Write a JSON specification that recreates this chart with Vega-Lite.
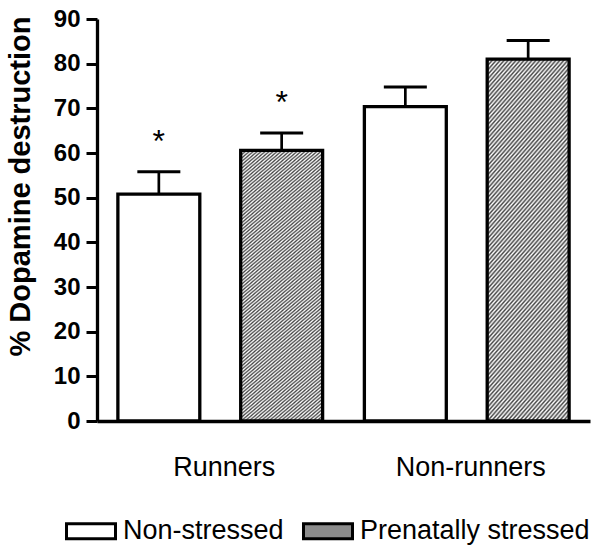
{
  "$schema": "https://vega.github.io/schema/vega-lite/v6.json",
  "width": 493,
  "height": 402,
  "autosize": {"type": "none"},
  "padding": {"left": 97, "top": 19, "right": 12, "bottom": 132},
  "background": "white",
  "config": {"font": "Liberation Sans", "view": {"stroke": null}},
  "data": {
    "values": [
      {"group": "Runners", "cond": "Non-stressed", "mean": 50.8, "upper": 55.8, "sig": "*"},
      {"group": "Runners", "cond": "Prenatally stressed", "mean": 60.6, "upper": 64.5, "sig": "*"},
      {"group": "Non-runners", "cond": "Non-stressed", "mean": 70.4, "upper": 74.8, "sig": ""},
      {"group": "Non-runners", "cond": "Prenatally stressed", "mean": 81.0, "upper": 85.2, "sig": ""}
    ]
  },
  "encoding": {
    "x": {
      "field": "group", "type": "nominal", "sort": ["Runners", "Non-runners"],
      "scale": {"paddingInner": 0, "paddingOuter": 0},
      "axis": {"title": null, "ticks": false, "tickSize": 0, "domainColor": "black", "domainWidth": 3.3,
               "labelFont": "Liberation Sans", "labelFontSize": 27, "labelColor": "black", "labelAngle": 0,
               "labelBaseline": "alphabetic", "labelPadding": 54, "labelOffset": 4}
    },
    "xOffset": {
      "field": "cond", "type": "nominal", "sort": ["Non-stressed", "Prenatally stressed"],
      "scale": {"paddingInner": 0.333, "paddingOuter": 0.17}
    }
  },
  "layer": [
    {
      "mark": {"type": "bar", "stroke": "black", "strokeWidth": 3.3},
      "encoding": {
        "y": {
          "field": "mean", "type": "quantitative", "title": "% Dopamine destruction",
          "scale": {"domain": [0, 90], "nice": false, "zero": true},
          "axis": {"values": [0, 10, 20, 30, 40, 50, 60, 70, 80, 90], "grid": false,
                   "domainColor": "black", "domainWidth": 3.3, "tickColor": "black", "tickWidth": 3, "tickSize": 11,
                   "labelFont": "Liberation Sans", "labelFontWeight": "bold", "labelFontSize": 24, "labelColor": "black", "labelPadding": 6,
                   "titleFont": "Liberation Sans", "titleFontWeight": "bold", "titleFontSize": 29, "titleColor": "black",
                   "titleX": -68, "titleY": 167, "titleAngle": 270, "titleAlign": "center", "titleBaseline": "alphabetic"}
        },
        "fill": {
          "field": "cond", "type": "nominal",
          "scale": {"domain": ["Non-stressed", "Prenatally stressed"], "range": ["white", "#8c8c8c"]},
          "condition": {
            "test": "datum.cond === 'Prenatally stressed'",
            "value": {"gradient": "linear", "x1": 0, "y1": 0, "x2": 0.3058, "y2": 1.18, "stops": [
              {"offset":0,"color":"#fff"},{"offset":0.005,"color":"#444"},{"offset":0.01,"color":"#fff"},{"offset":0.015,"color":"#444"},
              {"offset":0.02,"color":"#fff"},{"offset":0.025,"color":"#444"},{"offset":0.03,"color":"#fff"},{"offset":0.035,"color":"#444"},
              {"offset":0.04,"color":"#fff"},{"offset":0.045,"color":"#444"},{"offset":0.05,"color":"#fff"},{"offset":0.055,"color":"#444"},
              {"offset":0.06,"color":"#fff"},{"offset":0.065,"color":"#444"},{"offset":0.07,"color":"#fff"},{"offset":0.075,"color":"#444"},
              {"offset":0.08,"color":"#fff"},{"offset":0.085,"color":"#444"},{"offset":0.09,"color":"#fff"},{"offset":0.095,"color":"#444"},
              {"offset":0.1,"color":"#fff"},{"offset":0.105,"color":"#444"},{"offset":0.11,"color":"#fff"},{"offset":0.115,"color":"#444"},
              {"offset":0.12,"color":"#fff"},{"offset":0.125,"color":"#444"},{"offset":0.13,"color":"#fff"},{"offset":0.135,"color":"#444"},
              {"offset":0.14,"color":"#fff"},{"offset":0.145,"color":"#444"},{"offset":0.15,"color":"#fff"},{"offset":0.155,"color":"#444"},
              {"offset":0.16,"color":"#fff"},{"offset":0.165,"color":"#444"},{"offset":0.17,"color":"#fff"},{"offset":0.175,"color":"#444"},
              {"offset":0.18,"color":"#fff"},{"offset":0.185,"color":"#444"},{"offset":0.19,"color":"#fff"},{"offset":0.195,"color":"#444"},
              {"offset":0.2,"color":"#fff"},{"offset":0.205,"color":"#444"},{"offset":0.21,"color":"#fff"},{"offset":0.215,"color":"#444"},
              {"offset":0.22,"color":"#fff"},{"offset":0.225,"color":"#444"},{"offset":0.23,"color":"#fff"},{"offset":0.235,"color":"#444"},
              {"offset":0.24,"color":"#fff"},{"offset":0.245,"color":"#444"},{"offset":0.25,"color":"#fff"},{"offset":0.255,"color":"#444"},
              {"offset":0.26,"color":"#fff"},{"offset":0.265,"color":"#444"},{"offset":0.27,"color":"#fff"},{"offset":0.275,"color":"#444"},
              {"offset":0.28,"color":"#fff"},{"offset":0.285,"color":"#444"},{"offset":0.29,"color":"#fff"},{"offset":0.295,"color":"#444"},
              {"offset":0.3,"color":"#fff"},{"offset":0.305,"color":"#444"},{"offset":0.31,"color":"#fff"},{"offset":0.315,"color":"#444"},
              {"offset":0.32,"color":"#fff"},{"offset":0.325,"color":"#444"},{"offset":0.33,"color":"#fff"},{"offset":0.335,"color":"#444"},
              {"offset":0.34,"color":"#fff"},{"offset":0.345,"color":"#444"},{"offset":0.35,"color":"#fff"},{"offset":0.355,"color":"#444"},
              {"offset":0.36,"color":"#fff"},{"offset":0.365,"color":"#444"},{"offset":0.37,"color":"#fff"},{"offset":0.375,"color":"#444"},
              {"offset":0.38,"color":"#fff"},{"offset":0.385,"color":"#444"},{"offset":0.39,"color":"#fff"},{"offset":0.395,"color":"#444"},
              {"offset":0.4,"color":"#fff"},{"offset":0.405,"color":"#444"},{"offset":0.41,"color":"#fff"},{"offset":0.415,"color":"#444"},
              {"offset":0.42,"color":"#fff"},{"offset":0.425,"color":"#444"},{"offset":0.43,"color":"#fff"},{"offset":0.435,"color":"#444"},
              {"offset":0.44,"color":"#fff"},{"offset":0.445,"color":"#444"},{"offset":0.45,"color":"#fff"},{"offset":0.455,"color":"#444"},
              {"offset":0.46,"color":"#fff"},{"offset":0.465,"color":"#444"},{"offset":0.47,"color":"#fff"},{"offset":0.475,"color":"#444"},
              {"offset":0.48,"color":"#fff"},{"offset":0.485,"color":"#444"},{"offset":0.49,"color":"#fff"},{"offset":0.495,"color":"#444"},
              {"offset":0.5,"color":"#fff"},{"offset":0.505,"color":"#444"},{"offset":0.51,"color":"#fff"},{"offset":0.515,"color":"#444"},
              {"offset":0.52,"color":"#fff"},{"offset":0.525,"color":"#444"},{"offset":0.53,"color":"#fff"},{"offset":0.535,"color":"#444"},
              {"offset":0.54,"color":"#fff"},{"offset":0.545,"color":"#444"},{"offset":0.55,"color":"#fff"},{"offset":0.555,"color":"#444"},
              {"offset":0.56,"color":"#fff"},{"offset":0.565,"color":"#444"},{"offset":0.57,"color":"#fff"},{"offset":0.575,"color":"#444"},
              {"offset":0.58,"color":"#fff"},{"offset":0.585,"color":"#444"},{"offset":0.59,"color":"#fff"},{"offset":0.595,"color":"#444"},
              {"offset":0.6,"color":"#fff"},{"offset":0.605,"color":"#444"},{"offset":0.61,"color":"#fff"},{"offset":0.615,"color":"#444"},
              {"offset":0.62,"color":"#fff"},{"offset":0.625,"color":"#444"},{"offset":0.63,"color":"#fff"},{"offset":0.635,"color":"#444"},
              {"offset":0.64,"color":"#fff"},{"offset":0.645,"color":"#444"},{"offset":0.65,"color":"#fff"},{"offset":0.655,"color":"#444"},
              {"offset":0.66,"color":"#fff"},{"offset":0.665,"color":"#444"},{"offset":0.67,"color":"#fff"},{"offset":0.675,"color":"#444"},
              {"offset":0.68,"color":"#fff"},{"offset":0.685,"color":"#444"},{"offset":0.69,"color":"#fff"},{"offset":0.695,"color":"#444"},
              {"offset":0.7,"color":"#fff"},{"offset":0.705,"color":"#444"},{"offset":0.71,"color":"#fff"},{"offset":0.715,"color":"#444"},
              {"offset":0.72,"color":"#fff"},{"offset":0.725,"color":"#444"},{"offset":0.73,"color":"#fff"},{"offset":0.735,"color":"#444"},
              {"offset":0.74,"color":"#fff"},{"offset":0.745,"color":"#444"},{"offset":0.75,"color":"#fff"},{"offset":0.755,"color":"#444"},
              {"offset":0.76,"color":"#fff"},{"offset":0.765,"color":"#444"},{"offset":0.77,"color":"#fff"},{"offset":0.775,"color":"#444"},
              {"offset":0.78,"color":"#fff"},{"offset":0.785,"color":"#444"},{"offset":0.79,"color":"#fff"},{"offset":0.795,"color":"#444"},
              {"offset":0.8,"color":"#fff"},{"offset":0.805,"color":"#444"},{"offset":0.81,"color":"#fff"},{"offset":0.815,"color":"#444"},
              {"offset":0.82,"color":"#fff"},{"offset":0.825,"color":"#444"},{"offset":0.83,"color":"#fff"},{"offset":0.835,"color":"#444"},
              {"offset":0.84,"color":"#fff"},{"offset":0.845,"color":"#444"},{"offset":0.85,"color":"#fff"},{"offset":0.855,"color":"#444"},
              {"offset":0.86,"color":"#fff"},{"offset":0.865,"color":"#444"},{"offset":0.87,"color":"#fff"},{"offset":0.875,"color":"#444"},
              {"offset":0.88,"color":"#fff"},{"offset":0.885,"color":"#444"},{"offset":0.89,"color":"#fff"},{"offset":0.895,"color":"#444"},
              {"offset":0.9,"color":"#fff"},{"offset":0.905,"color":"#444"},{"offset":0.91,"color":"#fff"},{"offset":0.915,"color":"#444"},
              {"offset":0.92,"color":"#fff"},{"offset":0.925,"color":"#444"},{"offset":0.93,"color":"#fff"},{"offset":0.935,"color":"#444"},
              {"offset":0.94,"color":"#fff"},{"offset":0.945,"color":"#444"},{"offset":0.95,"color":"#fff"},{"offset":0.955,"color":"#444"},
              {"offset":0.96,"color":"#fff"},{"offset":0.965,"color":"#444"},{"offset":0.97,"color":"#fff"},{"offset":0.975,"color":"#444"},
              {"offset":0.98,"color":"#fff"},{"offset":0.985,"color":"#444"},{"offset":0.99,"color":"#fff"},{"offset":0.995,"color":"#444"},
              {"offset":1,"color":"#fff"}
            ]}
          },
          "legend": {
            "orient": "none", "legendX": -32, "legendY": 486, "direction": "horizontal", "title": null,
            "symbolType": "M-1,-0.306H1V0.306H-1Z", "symbolSize": 2401,
            "symbolStrokeColor": "black", "symbolStrokeWidth": 3, "symbolOpacity": 1,
            "labelFont": "Liberation Sans", "labelFontSize": 27, "labelColor": "black", "labelLimit": 0,
            "labelOffset": 6, "columnPadding": 13
          }
        }
      }
    },
    {
      "mark": {"type": "rule", "strokeWidth": 2.7, "color": "black"},
      "encoding": {
        "y": {"field": "mean", "type": "quantitative", "title": "% Dopamine destruction"},
        "y2": {"field": "upper"}
      }
    },
    {
      "mark": {"type": "tick", "orient": "horizontal", "size": 43, "thickness": 3, "color": "black", "opacity": 1},
      "encoding": {
        "y": {"field": "upper", "type": "quantitative", "title": "% Dopamine destruction"}
      }
    },
    {
      "mark": {"type": "text", "dy": -20, "fontSize": 32, "baseline": "alphabetic", "align": "center", "color": "black", "font": "Liberation Sans"},
      "encoding": {
        "y": {"field": "upper", "type": "quantitative", "title": "% Dopamine destruction"},
        "text": {"field": "sig"}
      }
    }
  ]
}
